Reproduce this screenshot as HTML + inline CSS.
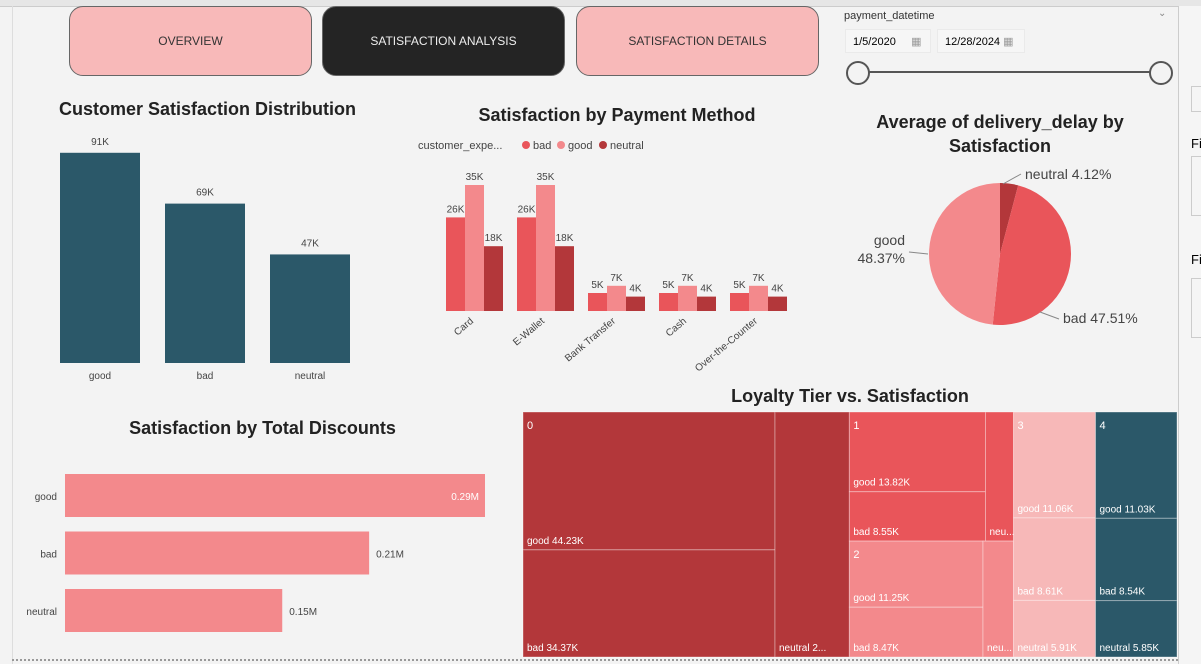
<!DOCTYPE html>
<html><head><meta charset="utf-8"><style>
body{margin:0;width:1201px;height:664px;overflow:hidden;background:#f3f3f3;font-family:"Liberation Sans",sans-serif;position:relative}
.abs{position:absolute}
.btn{position:absolute;top:6px;width:243px;height:70px;border-radius:14px;border:1px solid #666;display:flex;align-items:center;justify-content:center;font-size:12px;color:#333;box-sizing:border-box}
.title{position:absolute;font-weight:bold;font-size:18px;color:#222;text-align:center}
svg text{font-family:"Liberation Sans",sans-serif}
</style></head><body>
<div class="abs" style="left:0;top:0;width:1201px;height:6px;background:#e6e6e6;border-bottom:1px solid #ccc"></div>
<div class="abs" style="left:0;top:6px;width:12px;height:658px;border-right:1px solid #ddd"></div>
<div class="btn" style="left:69px;background:#f8b9b9">OVERVIEW</div>
<div class="btn" style="left:322px;background:#242424;color:#eee">SATISFACTION ANALYSIS</div>
<div class="btn" style="left:576px;background:#f8b9b9">SATISFACTION DETAILS</div>
<div class="abs" style="left:844px;top:10px;font-size:11px;color:#333">payment_datetime</div>
<div class="abs" style="left:1158px;top:8px;font-size:10px;color:#888">⌄</div>
<div class="abs" style="left:845px;top:29px;width:86px;height:24px;background:#f6f6f6;border:1px solid #eaeaea;font-size:11px;line-height:24px;padding-left:7px;box-sizing:border-box">1/5/2020 &nbsp;&nbsp;&nbsp;&nbsp;<span style="color:#999">▦</span></div>
<div class="abs" style="left:937px;top:29px;width:88px;height:24px;background:#f6f6f6;border:1px solid #eaeaea;font-size:11px;line-height:24px;padding-left:7px;box-sizing:border-box">12/28/2024 <span style="color:#999">▦</span></div>
<div class="abs" style="left:858px;top:71px;width:302px;height:2px;background:#555"></div>
<div class="abs" style="left:846px;top:61px;width:20px;height:20px;border-radius:50%;border:2px solid #555;background:#f3f3f3"></div>
<div class="abs" style="left:1149px;top:61px;width:20px;height:20px;border-radius:50%;border:2px solid #555;background:#f3f3f3"></div>
<div class="abs" style="left:1178px;top:6px;width:23px;height:658px;border-left:1px solid #ccc;background:#f5f5f5">
 <div class="abs" style="left:12px;top:80px;width:20px;height:24px;border:1px solid #ccc"></div>
 <div class="abs" style="left:12px;top:130px;font-size:13px">Fi</div>
 <div class="abs" style="left:12px;top:150px;width:20px;height:58px;border:1px solid #ccc"></div>
 <div class="abs" style="left:12px;top:246px;font-size:13px">Fi</div>
 <div class="abs" style="left:12px;top:272px;width:20px;height:58px;border:1px solid #ccc"></div>
</div>
<div class="abs" style="left:12px;top:659px;width:1166px;border-top:2px dotted #999"></div>

<div class="title" style="left:40px;top:99px;width:335px">Customer Satisfaction Distribution</div>
<div class="title" style="left:447px;top:105px;width:340px">Satisfaction by Payment Method</div>
<div class="title" style="left:860px;top:110px;width:280px;line-height:24px">Average of delivery_delay by Satisfaction</div>
<div class="title" style="left:100px;top:418px;width:325px">Satisfaction by Total Discounts</div>
<div class="title" style="left:680px;top:386px;width:340px">Loyalty Tier vs. Satisfaction</div>

<svg class="abs" style="left:0;top:0" width="1201" height="664" id="svg"></svg>
<script>
const distCats=["good","bad","neutral"];
const distVals=[91,69,47];
const payCats=["Card","E-Wallet","Bank Transfer","Cash","Over-the-Counter"];
const payBad=[26,26,5,5,5];
const payGood=[35,35,7,7,7];
const payNeutral=[18,18,4,4,4];
const pieCats=["neutral","bad","good"];
const pieVals=[4.12,47.51,48.37];
const discCats=["good","bad","neutral"];
const discVals=[0.29,0.21,0.15];
const tierGood=[44.23,13.82,11.25,11.06,11.03];
const tierBad=[34.37,8.55,8.47,8.61,8.54];
const tierNeutral=[23.2,4.6,4.5,5.91,5.85];

const S=document.getElementById('svg');const NS="http://www.w3.org/2000/svg";
function mk(t,a,txt){const e=document.createElementNS(NS,t);for(const k in a)e.setAttribute(k,a[k]);if(txt!==undefined)e.textContent=txt;S.appendChild(e);return e;}
const RED="#e9555a",PINK="#f3898c",DARK="#b3373a",TEAL="#2b5869",LP="#f7b8b8";

// chart 1
const y1=v=>363-v*2.31;
distCats.forEach((c,i)=>{const x=60+i*105;
 const r=mk('rect',{x:x,y:y1(distVals[i]),width:80,height:363-y1(distVals[i]),fill:TEAL});
 
 const l=mk('text',{x:x+40,y:y1(distVals[i])-8,'text-anchor':'middle','font-size':10,fill:'#444'},distVals[i]+'K');
 
 const t=mk('text',{x:x+40,y:379,'text-anchor':'middle','font-size':10,fill:'#444'},c);
 
});

// chart 2
const lg=mk('text',{x:418,y:149,'font-size':11,fill:'#444'},'customer_expe...');

[["bad",RED,526],["good",PINK,561],["neutral",DARK,603]].forEach(([n,c,x])=>{
 const d=mk('circle',{cx:x,cy:145,r:4,fill:c});
 const t=mk('text',{x:x+7,y:149,'font-size':11,fill:'#444'},n);
});
const y2=v=>311-v*3.6;
payCats.forEach((c,i)=>{const gx=446+i*71;
 [[payBad,RED,'bad'],[payGood,PINK,'good'],[payNeutral,DARK,'neutral']].forEach(([arr,col,n],j)=>{
  const x=gx+j*19,v=arr[i];
  const r=mk('rect',{x:x,y:y2(v),width:19,height:311-y2(v),fill:col});
  
  const l=mk('text',{x:x+9.5,y:y2(v)-5,'text-anchor':'middle','font-size':10,fill:'#444'},v+'K');
  
 });
 const t=mk('text',{x:gx+28,y:322,'text-anchor':'end','font-size':10,fill:'#444',transform:`rotate(-40 ${gx+28} 322)`},c);
 
});

// pie
const cx=1000,cy=254,R=71;const pcol={neutral:DARK,bad:RED,good:PINK};
let tot=pieVals.reduce((a,b)=>a+b,0),acc=0;
pieCats.forEach((c,i)=>{const a0=acc/tot*2*Math.PI;acc+=pieVals[i];const a1=acc/tot*2*Math.PI;
 const p=(a)=>[cx+R*Math.sin(a),cy-R*Math.cos(a)];const [x0,y0]=p(a0),[x1,y1_]=p(a1);
 const s=mk('path',{d:`M${cx},${cy}L${x0},${y0}A${R},${R} 0 ${a1-a0>Math.PI?1:0} 1 ${x1},${y1_}Z`,fill:pcol[c]});
 
});
[["neutral 4.12%",1025,179,'start',[[1003,184],[1021,174]]],["bad 47.51%",1063,323,'start',[[1040,312],[1059,319]]]].forEach(([t,x,y,a,ln])=>{
 const l=mk('polyline',{points:ln.map(p=>p.join(',')).join(' '),fill:'none',stroke:'#888'});
 const e=mk('text',{x:x,y:y,'font-size':14,fill:'#444','text-anchor':a},t);
});
const gl1=mk('text',{x:905,y:245,'font-size':14,fill:'#444','text-anchor':'end'},'good');
const gl2=mk('text',{x:905,y:263,'font-size':14,fill:'#444','text-anchor':'end'},'48.37%');
const gll=mk('line',{x1:909,y1:252,x2:928,y2:254,stroke:'#888'});

// hbar
const xs=v=>v/0.29*420;
discCats.forEach((c,i)=>{const y=474+i*57.5;const w=xs(discVals[i]);
 const r=mk('rect',{x:65,y:y,width:w,height:43,fill:PINK});
 const t=mk('text',{x:57,y:y+26,'text-anchor':'end','font-size':10,fill:'#444'},c);
 const inside=i===0;
 const l=mk('text',{x:inside?65+w-6:65+w+7,y:y+26,'text-anchor':inside?'end':'start','font-size':10,fill:inside?'#fff':'#444'},discVals[i].toFixed(2)+'M');
 
});

// treemap
const X0=523,Y0=412,W=654,H=245;
const tt=tierGood.map((g,i)=>g+tierBad[i]+tierNeutral[i]);const T=tt.reduce((a,b)=>a+b,0);
const tcol=[DARK,RED,PINK,LP,TEAL];
function cell(x,y,w,h,col,label,name){const r=mk('rect',{x:x,y:y,width:w,height:h,fill:col,stroke:'rgba(255,255,255,0.35)','stroke-width':1});
 
 if(label){const t=mk('text',{x:x+4,y:y+h-6,'font-size':10,fill:'#fff'},label);}}
function hdr(x,y,n){const t=mk('text',{x:x+4,y:y+17,'font-size':11,fill:'#fff'},String(n));}
function fmt(v){return v.toFixed(2)+'K';}
function trunc(s,w){const m=Math.floor((w-8)/5.2);return s.length>m?s.slice(0,Math.max(3,m-3))+'...':s;}
function tierBlock(i,x,y,w,h){const gb=tierGood[i]+tierBad[i];const wl=w*gb/tt[i];
 const hg=h*tierGood[i]/gb;
 cell(x,y,wl,hg,tcol[i],'good '+fmt(tierGood[i]),'tier'+i+'-good');
 cell(x,y+hg,wl,h-hg,tcol[i],'bad '+fmt(tierBad[i]),'tier'+i+'-bad');
 cell(x+wl,y,w-wl,h,tcol[i],trunc('neutral '+fmt(tierNeutral[i]),w-wl),'tier'+i+'-neutral');
 hdr(x,y,i);}
let x=X0;const w0=W*tt[0]/T;tierBlock(0,x,Y0,w0,H);x+=w0;
const w12=W*(tt[1]+tt[2])/T;const h1=H*tt[1]/(tt[1]+tt[2]);
tierBlock(1,x,Y0,w12,h1);tierBlock(2,x,Y0+h1,w12,H-h1);x+=w12;
[3,4].forEach(i=>{const w=W*tt[i]/T;let y=Y0;
 [[tierGood,'good'],[tierBad,'bad'],[tierNeutral,'neutral']].forEach(([a,n])=>{const h=H*a[i]/tt[i];cell(x,y,w,h,tcol[i],n+' '+fmt(a[i]),'tier'+i+'-'+n);y+=h;});
 hdr(x,Y0,i);x+=w;});
</script>
</body></html>
